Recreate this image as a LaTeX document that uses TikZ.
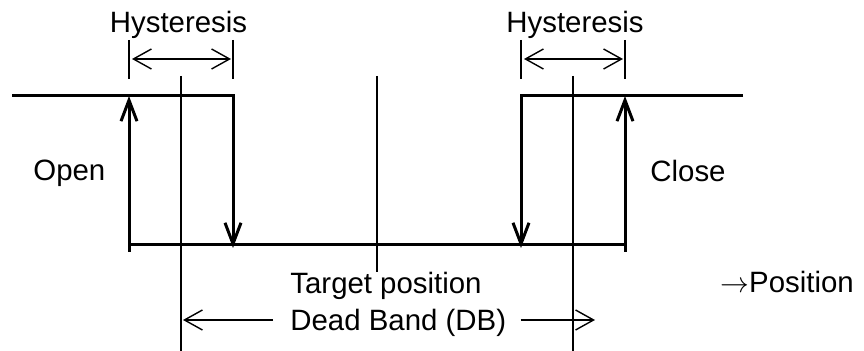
\documentclass[tikz,border=0pt]{standalone}
\usepackage{fontspec}
\setmainfont{Liberation Sans}
\usetikzlibrary{arrows.meta}
\begin{document}
\begin{tikzpicture}[x=0.5pt,y=-0.5pt,
    lbl/.style={inner sep=0pt,font=\fontsize{14.7}{17}\selectfont},
    guide/.style={line width=0.7pt},
    bold/.style={line width=1.5pt,-{Straight Barb[length=10.5pt,width=8pt]}},
    thinarr/.style={guide,-{Straight Barb[length=9pt,width=10pt]}},
    dimarr/.style={guide,{Straight Barb[length=9pt,width=10pt]}-{Straight Barb[length=9pt,width=10pt]}}]
    \useasboundingbox (0,0) rectangle (864,351);
    \coordinate (T0) at (12,96);
    \coordinate (A) at (129,96);
    \coordinate (A0) at (129,252);
    \coordinate (B) at (233,96);
    \coordinate (B0) at (233,248);
    \coordinate (C) at (521,96);
    \coordinate (C0) at (521,248);
    \coordinate (D) at (625,96);
    \coordinate (D0) at (625,252);
    \coordinate (T1) at (743,96);
    \coordinate (E) at (129,245);
    \coordinate (F) at (625,245);
    \draw[bold] (T0) -- (B) -- (B0);
    \draw[bold] (T1) -- (C) -- (C0);
    \draw[bold] (A0) -- (A);
    \draw[bold] (D0) -- (D);
    \draw[line width=1.5pt] (E) -- (F);
    \coordinate (GL) at (181,76);
    \coordinate (GL0) at (181,351);
    \coordinate (GM) at (377,76);
    \coordinate (GM0) at (377,272);
    \coordinate (GR) at (573,76);
    \coordinate (GR0) at (573,351);
    \draw[guide] (GL) -- (GL0);
    \draw[guide] (GM) -- (GM0);
    \draw[guide] (GR) -- (GR0);
    \foreach \x in {129,233,521,625}
        \draw[guide] (\x,40) -- (\x,79);
    \draw[dimarr] (132,59) -- (231,59);
    \draw[dimarr] (524,59) -- (623,59);
    \node[lbl,anchor=base] (hystL) at (178.5,33) {Hysteresis};
    \node[lbl,anchor=base] (hystR) at (575,33) {Hysteresis};
    \node[lbl,anchor=base west] (open) at (33,181) {Open};
    \node[lbl,anchor=base west] (close) at (650,182) {Close};
    \node[lbl,anchor=base west] (target) at (290,294) {Target position};
    \node[lbl,anchor=base west] (db) at (290,331) {Dead Band (DB)};
    \node[lbl,anchor=base west] (pos) at (720,293) {$\rightarrow$Position};
    \coordinate (DBL) at (183,320);
    \coordinate (DBR) at (595,320);
    \draw[thinarr] (db.west |- DBL) ++(-17,0) -- (DBL);
    \draw[thinarr] (db.east |- DBR) ++(14,0) -- (DBR);
\end{tikzpicture}
\end{document}
